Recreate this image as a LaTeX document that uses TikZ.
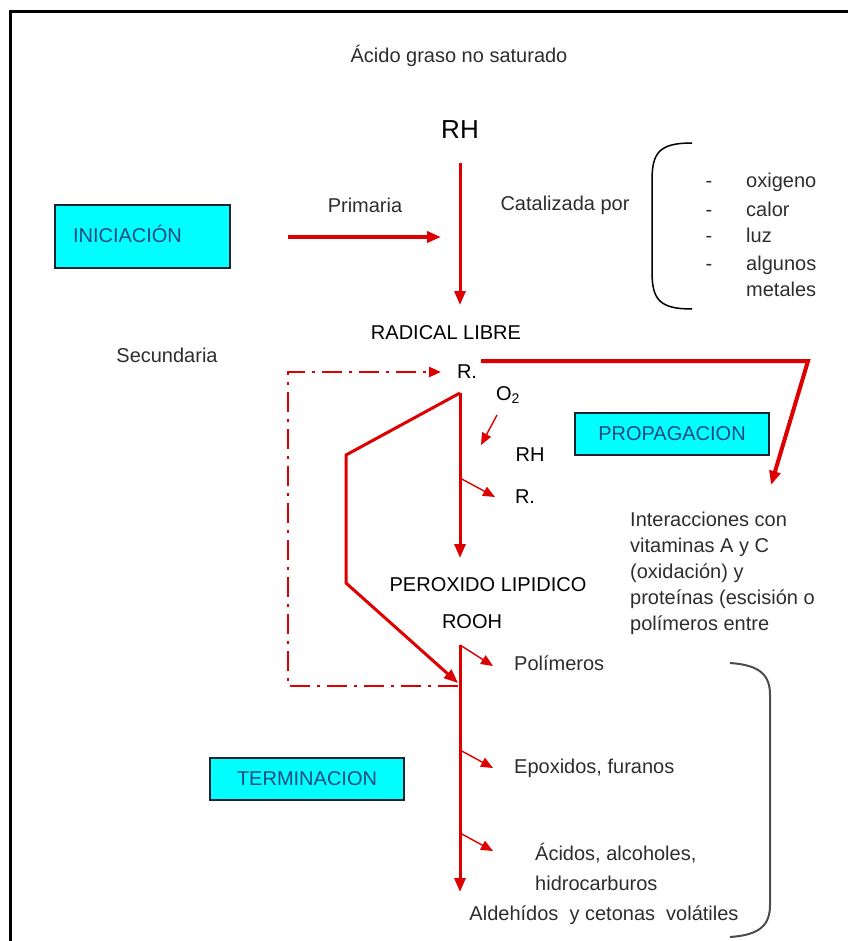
\documentclass[tikz,border=0pt]{standalone}
\usepackage{fontspec}
\setmainfont{Liberation Sans}
\usetikzlibrary{arrows.meta}
\definecolor{rojo}{RGB}{222,0,0}
\definecolor{cian}{RGB}{0,255,255}
\definecolor{azultxt}{RGB}{31,73,125}
\definecolor{gristxt}{RGB}{45,45,45}
\definecolor{bordecaja}{RGB}{25,35,50}

\begin{document}
\begin{tikzpicture}[x=1pt,y=-1pt,
  every node/.style={inner sep=0pt, text=gristxt, font=\fontsize{20}{24}\selectfont},
  caja/.style={draw=bordecaja, line width=1.8pt, fill=cian, text=azultxt},
  fuerte/.style={text=black},
  flecha/.style={draw=rojo, line width=3pt, line join=miter, -{Triangle[length=14pt,width=11pt]}},
  flechita/.style={draw=rojo, line width=1.4pt, -{Triangle[length=12pt,width=10pt]}},
  rayapunto/.style={draw=rojo, line width=2.5pt, dash pattern=on 20pt off 7pt on 3pt off 7pt}]
\useasboundingbox (0,0) rectangle (848,941);
\draw[line width=3pt] (10,941) -- (10,12) -- (848,12);

% textos
\node (acido) at (459,56) {Ácido graso no saturado};
\node[fuerte, font=\fontsize{26}{30}\selectfont] (rh) at (460,130) {RH};
\node[caja, minimum width=175pt, minimum height=63pt, text width=139pt, align=left] (inic) at (142.5,236.5) {\raisebox{6pt}{INICIACIÓN}};
\node (primaria) at (365,205) {Primaria};
\node (catal) at (565,205) {Catalizada por};
\node[anchor=base] (g1) at (709,188) {-};
\node[anchor=base] (g2) at (709,217) {-};
\node[anchor=base] (g3) at (709,243) {-};
\node[anchor=base] (g4) at (709,270) {-};
\node[anchor=base west] (oxi) at (746,188) {oxigeno};
\node[anchor=base west] (calor) at (746,217) {calor};
\node[anchor=base west] (luz) at (746,243) {luz};
\node[anchor=base west] (algunos) at (746,270) {algunos};
\node[anchor=base west] (metales) at (746,296) {metales};
\node[fuerte] (radical) at (446,333) {RADICAL LIBRE};
\node (secund) at (167,355) {Secundaria};
\node[fuerte] (r1) at (467,372) {R.};
\node[fuerte] (o2) at (508,395) {O\textsubscript{2}};
\node[fuerte] (rh2) at (530,455) {RH};
\node[fuerte] (r2) at (525,497) {R.};
\node[caja, minimum width=194pt, minimum height=42pt] (propag) at (672,434) {PROPAGACION};
\node[anchor=base west, align=left, font=\fontsize{20}{26}\selectfont] (interac) at (630,630)
  {Interacciones con\\vitaminas A y C\\(oxidación) y\\proteínas (escisión o\\polímeros entre};
\node[fuerte] (perox) at (488,585) {PEROXIDO LIPIDICO};
\node[fuerte] (rooh) at (472,622) {ROOH};
\node[anchor=west] (polim) at (514,663) {Polímeros};
\node[anchor=west] (epox) at (514,768) {Epoxidos, furanos};
\node[anchor=base west, align=left, font=\fontsize{20}{30}\selectfont] (acidos) at (535,890)
  {Ácidos, alcoholes,\\hidrocarburos};
\node (aldeh) at (604,915) {Aldehídos\ \ y cetonas\ \ volátiles};
\node[caja, minimum width=194pt, minimum height=42pt] (termin) at (307,779) {TERMINACION};

% puntos de las flechas
\coordinate (rhpie) at (460,163);
\coordinate (radtope) at (460,305);
\coordinate (pri1) at (288,237);
\coordinate (pri2) at (441,237);
\coordinate (dd1) at (458,686);
\coordinate (dd2) at (288,686);
\coordinate (dd3) at (288,372);
\coordinate (dd4) at (441,372);
\coordinate (pr1) at (481,361);
\coordinate (pr2) at (808,361);
\coordinate (pr3) at (771,485);
\coordinate (rtope) at (460,393);
\coordinate (pxtope) at (460,558);
\coordinate (q1) at (346,455);
\coordinate (q2) at (346,583);
\coordinate (q3) at (458,683);
\coordinate (o2a) at (497,415);
\coordinate (o2b) at (481,445);
\coordinate (rmed) at (460,478);
\coordinate (rsal) at (495,497);
\coordinate (roohpie) at (460,645);
\coordinate (aldtope) at (460,892);
\coordinate (t1) at (493,666);
\coordinate (m2) at (460,750);
\coordinate (t2) at (493,768);
\coordinate (m3) at (460,833);
\coordinate (t3) at (493,851);

\draw[flecha] (rhpie) -- (radtope);
\draw[flecha, line width=4pt] (pri1) -- (pri2);
\draw[rayapunto, -{Triangle[length=12pt,width=10pt]}] (dd1) -- (dd2) -- (dd3) -- (dd4);
\draw[flecha, line width=4pt] (pr1) -- (pr2) -- (pr3);
\draw[flecha] (rtope) -- (pxtope);
\draw[flecha] (rtope) -- (q1) -- (q2) -- (q3);
\draw[flechita] (o2a) -- (o2b);
\draw[flechita] (rmed) -- (rsal);
\draw[flecha] (roohpie) -- (aldtope);
\draw[flechita] (roohpie) -- (t1);
\draw[flechita] (m2) -- (t2);
\draw[flechita] (m3) -- (t3);

% llaves
\draw[line width=1.5pt] (692,143) .. controls (660,143) and (652,152) .. (652,180) -- (652,272) .. controls (652,300) and (660,309) .. (692,309);
\draw[line width=2pt, gray!60!black] (730,663) .. controls (760,665) and (770,675) .. (770,695) -- (770,905) .. controls (770,925) and (760,935) .. (730,937);
\end{tikzpicture}
\end{document}
